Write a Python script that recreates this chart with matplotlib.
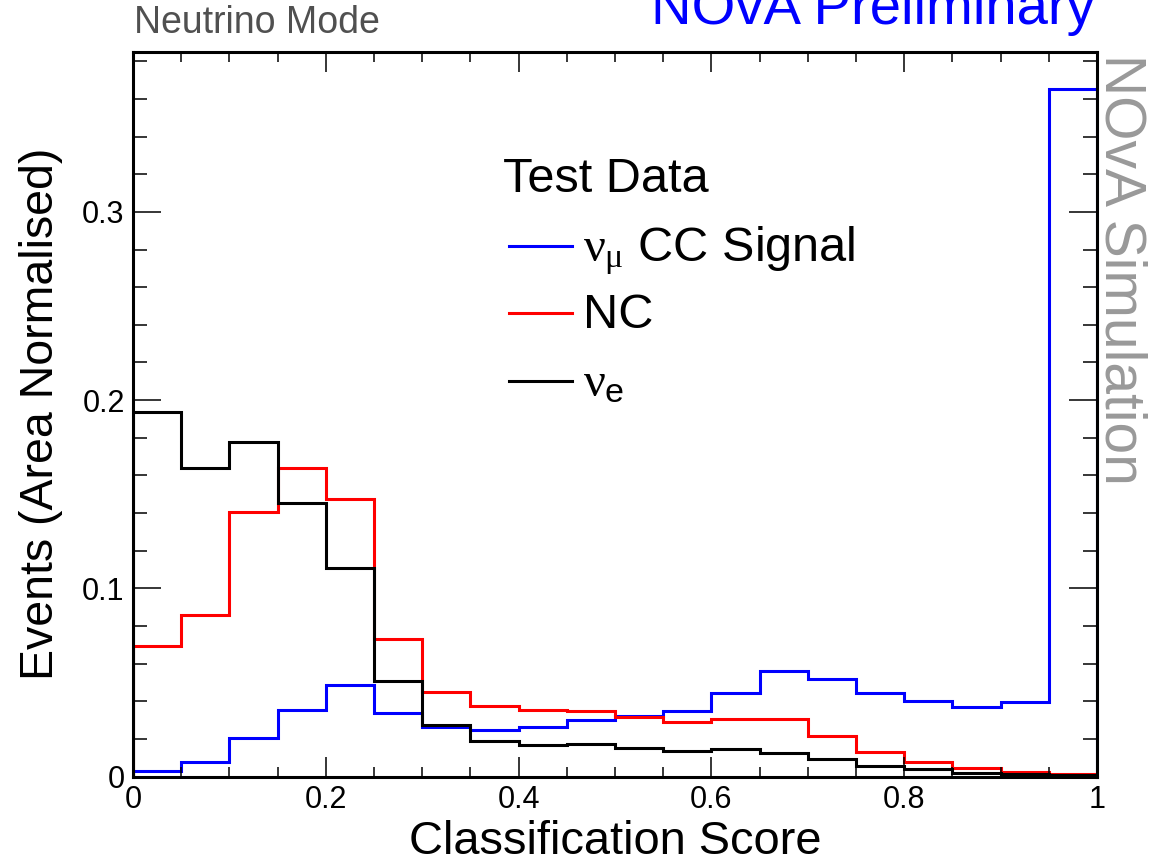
import numpy as np
import matplotlib
matplotlib.use("Agg")
import matplotlib.pyplot as plt
from matplotlib.ticker import MultipleLocator, FuncFormatter
from matplotlib.lines import Line2D

plt.rcParams["font.family"] = ["Liberation Sans", "DejaVu Sans"]
plt.rcParams["mathtext.fontset"] = "custom"
plt.rcParams["mathtext.rm"] = "Liberation Sans"
plt.rcParams["mathtext.it"] = "Liberation Serif"
plt.rcParams["mathtext.bf"] = "Liberation Sans:bold"

# Classification score binning: 20 bins of width 0.05
bin_edges = np.linspace(0.0, 1.0, 21)

# Area-normalised test-data distributions
numu_cc = [0.003, 0.0075, 0.0203, 0.0353, 0.0486, 0.0339, 0.0263, 0.0247, 0.0265, 0.0300,
           0.0323, 0.0348, 0.0445, 0.0562, 0.0518, 0.0442, 0.0401, 0.0367, 0.0397, 0.3655]
nc = [0.0693, 0.0858, 0.1403, 0.1637, 0.1472, 0.0729, 0.0450, 0.0374, 0.0353, 0.0346,
      0.0318, 0.0289, 0.0307, 0.0305, 0.0217, 0.0128, 0.0079, 0.0047, 0.0022, 0.0013]
nue = [0.1937, 0.1642, 0.1775, 0.1456, 0.1109, 0.0509, 0.0273, 0.0189, 0.0167, 0.0174,
       0.0150, 0.0134, 0.0148, 0.0127, 0.0091, 0.0056, 0.0038, 0.0017, 0.0012, 0.0008]

series_labels = [r"$\nu_{\mu}$ CC Signal", "NC", r"$\nu_{\mathrm{e}}$"]
series_colors = ["#0000ff", "#ff0000", "#000000"]

fig = plt.figure(figsize=(11.53, 8.63), dpi=100)
ax = fig.add_axes([0.11535, 0.10023, 0.83608, 0.83952])

lw = 2.2
for vals, col in zip([numu_cc, nc, nue], series_colors):
    ax.stairs(vals, bin_edges, color=col, linewidth=lw, baseline=0)

ax.set_xlim(0, 1)
ax.set_ylim(0, 0.385)

for sp in ax.spines.values():
    sp.set_linewidth(2.2)
    sp.set_zorder(5)

ax.xaxis.set_major_locator(MultipleLocator(0.2))
ax.xaxis.set_minor_locator(MultipleLocator(0.05))
ax.yaxis.set_major_locator(MultipleLocator(0.1))
ax.yaxis.set_minor_locator(MultipleLocator(0.02))
fmt = FuncFormatter(lambda v, p: "%g" % round(v, 3))
ax.xaxis.set_major_formatter(fmt)
ax.yaxis.set_major_formatter(fmt)

ax.tick_params(axis="both", which="both", direction="in", top=True, right=True,
               width=1.1, labelsize=22, colors="black")
ax.tick_params(axis="x", which="major", length=14.4, pad=6)
ax.tick_params(axis="x", which="minor", length=7.2)
ax.tick_params(axis="y", which="major", length=20, pad=6)
ax.tick_params(axis="y", which="minor", length=10)

ax.set_xlabel("Classification Score", fontsize=33.8, labelpad=4)
ax.set_ylabel("Events (Area Normalised)", fontsize=33.5, labelpad=14)

# Legend block
leg_fs = 35
ax.text(0.3838, 0.8064, "Test Data", transform=ax.transAxes, fontsize=leg_fs,
        ha="left", va="baseline")
line_ys = [0.7322, 0.6393, 0.5463]
text_ys = [0.7106, 0.6190, 0.5242]
for lab, col, ly, ty in zip(series_labels, series_colors, line_ys, text_ys):
    ax.add_line(Line2D([0.390, 0.4554], [ly, ly], transform=ax.transAxes,
                       color=col, linewidth=lw))
    ax.text(0.4668, ty, lab, transform=ax.transAxes, fontsize=leg_fs,
            ha="left", va="baseline")

# Header and side labels
fig.text(0.1160, 0.9614, "Neutrino Mode", fontsize=27, color="#505050",
         ha="left", va="baseline")
fig.text(0.9497, 0.9722, "NOvA Preliminary", fontsize=40.5, color="#0000ff",
         ha="right", va="baseline")
fig.text(0.9714, 0.9375, "NOvA Simulation", fontsize=41, color="#999999",
         rotation=270, ha="center", va="top")

fig.savefig("out.png", dpi=100)
